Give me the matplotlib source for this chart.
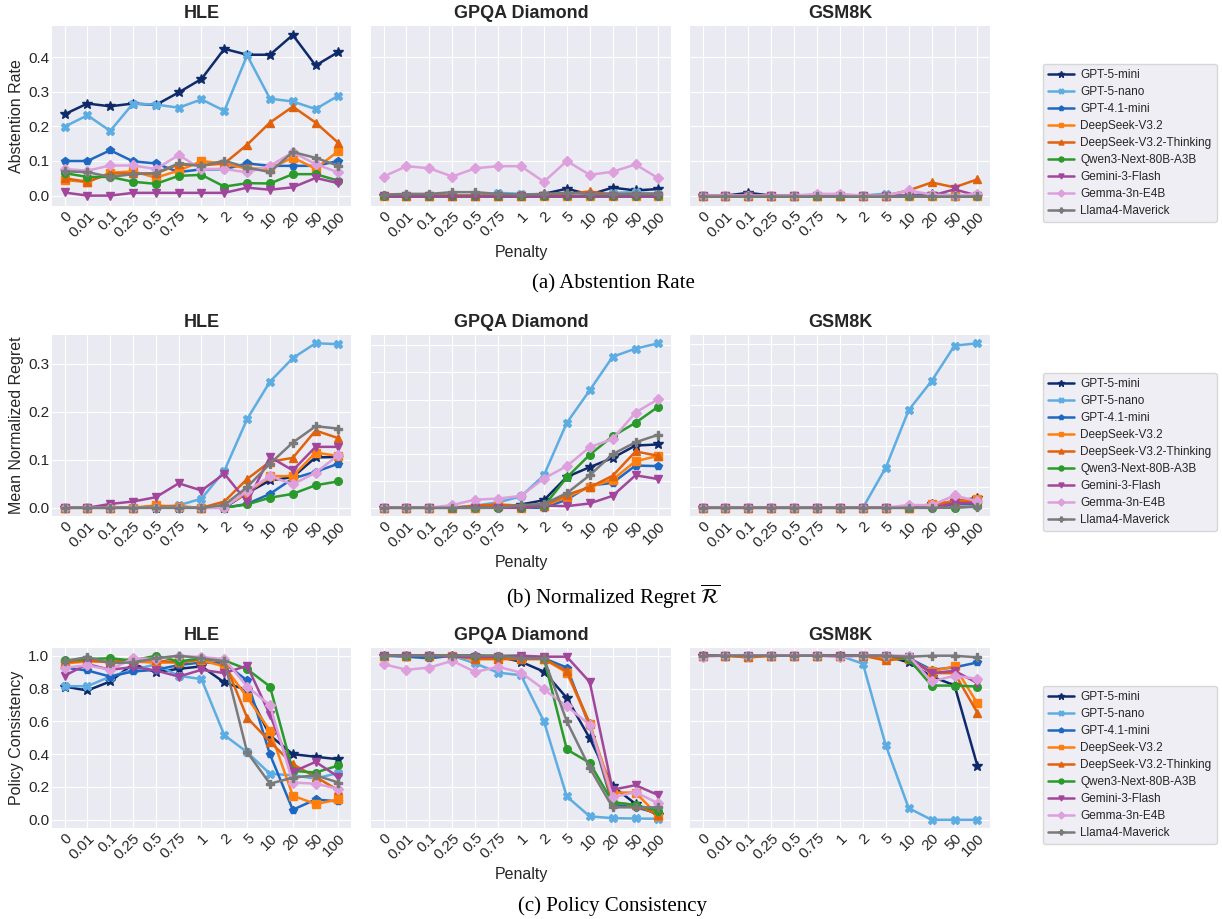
import matplotlib
matplotlib.use('Agg')
import matplotlib.pyplot as plt
from matplotlib.ticker import MultipleLocator

penalties = ['0', '0.01', '0.1', '0.25', '0.5', '0.75', '1', '2', '5', '10', '20', '50', '100']
benchmarks = ['HLE', 'GPQA Diamond', 'GSM8K']
models = ['GPT-5-mini', 'GPT-5-nano', 'GPT-4.1-mini', 'DeepSeek-V3.2', 'DeepSeek-V3.2-Thinking',
          'Qwen3-Next-80B-A3B', 'Gemini-3-Flash', 'Gemma-3n-E4B', 'Llama4-Maverick']
colors = ['#0f2a6b', '#5dade2', '#1f68c1', '#ff7f0e', '#e0620d',
          '#2a9a2a', '#a2469c', '#dda0dd', '#7a7a7a']
markers = ['*', 'X', 'p', 's', '^', 'o', 'v', 'D', 'P']

# (a) abstention rate, one row per model
abst_hle = [
    [0.235, 0.266, 0.258, 0.266, 0.262, 0.298, 0.337, 0.424, 0.407, 0.407, 0.464, 0.376, 0.415],
    [0.199, 0.232, 0.187, 0.266, 0.263, 0.254, 0.278, 0.245, 0.405, 0.280, 0.272, 0.250, 0.289],
    [0.100, 0.100, 0.131, 0.099, 0.093, 0.068, 0.076, 0.076, 0.093, 0.086, 0.086, 0.086, 0.100],
    [0.045, 0.039, 0.066, 0.070, 0.052, 0.072, 0.100, 0.092, 0.078, 0.078, 0.110, 0.078, 0.129],
    [0.050, 0.040, 0.064, 0.064, 0.064, 0.090, 0.087, 0.093, 0.147, 0.211, 0.257, 0.211, 0.152],
    [0.065, 0.054, 0.054, 0.040, 0.034, 0.057, 0.060, 0.026, 0.036, 0.035, 0.062, 0.062, 0.043],
    [0.009, 0.000, 0.000, 0.008, 0.008, 0.008, 0.008, 0.008, 0.023, 0.017, 0.024, 0.051, 0.036],
    [0.077, 0.072, 0.087, 0.087, 0.077, 0.117, 0.077, 0.077, 0.067, 0.086, 0.125, 0.091, 0.067],
    [0.070, 0.068, 0.054, 0.062, 0.065, 0.093, 0.086, 0.101, 0.081, 0.068, 0.126, 0.109, 0.086],
]
abst_gpqa = [
    [0, 0, 0, 0, 0, 0, 0, 0.005, 0.020, 0.003, 0.023, 0.015, 0.019],
    [0, 0, 0, 0, 0, 0.008, 0.005, 0, 0, 0, 0.008, 0.010, 0.005],
    [0, 0, 0, 0, 0, 0, 0, 0, 0, 0, 0, 0, 0],
    [0, 0, 0, 0, 0, 0, 0, 0, 0, 0, 0, 0, 0],
    [0.003, 0, 0, 0, 0, 0, 0, 0.003, 0.005, 0.012, 0.003, 0.005, 0.005],
    [0, 0, 0, 0, 0, 0, 0, 0, 0, 0, 0, 0, 0],
    [0, 0, 0, 0, 0, 0, 0, 0, 0, 0, 0, 0, 0],
    [0.055, 0.085, 0.079, 0.055, 0.079, 0.085, 0.085, 0.040, 0.100, 0.060, 0.069, 0.090, 0.050],
    [0.003, 0.005, 0.005, 0.010, 0.010, 0.005, 0.003, 0.005, 0.008, 0.005, 0.005, 0.005, 0.005],
]
abst_gsm = [
    [0, 0, 0.008, 0, 0, 0, 0, 0, 0, 0, 0.005, 0, 0],
    [0, 0, 0, 0, 0, 0, 0, 0, 0.006, 0, 0, 0, 0],
    [0, 0, 0, 0, 0, 0, 0, 0, 0, 0, 0, 0, 0],
    [0, 0, 0, 0, 0, 0, 0, 0, 0, 0, 0, 0, 0],
    [0, 0, 0, 0, 0, 0, 0, 0, 0, 0.015, 0.038, 0.024, 0.047],
    [0, 0, 0, 0, 0, 0, 0, 0, 0, 0, 0, 0, 0],
    [0, 0, 0, 0, 0, 0, 0, 0, 0, 0, 0, 0.018, 0],
    [0, 0, 0, 0, 0, 0.005, 0.005, 0, 0, 0.015, 0.003, 0, 0.005],
    [0, 0, 0, 0, 0, 0, 0, 0, 0, 0, 0, 0, 0],
]

# (b) mean normalized regret
reg_hle = [
    [0, 0, 0, 0, 0, 0, 0, 0, 0.031, 0.057, 0.064, 0.105, 0.106],
    [0, 0, 0, 0, 0.002, 0.005, 0.019, 0.077, 0.185, 0.263, 0.312, 0.343, 0.341],
    [0, 0, 0, 0, 0, 0, 0, 0, 0.008, 0.029, 0.061, 0.075, 0.092],
    [0, 0, 0, 0, 0.005, 0.002, 0, 0.003, 0.030, 0.066, 0.066, 0.115, 0.108],
    [0, 0, 0, 0, 0.003, 0.003, 0, 0.013, 0.060, 0.096, 0.104, 0.161, 0.145],
    [0, 0, 0, 0, 0, 0, 0, 0, 0.007, 0.021, 0.029, 0.047, 0.055],
    [0, 0, 0.008, 0.013, 0.022, 0.051, 0.036, 0.071, 0.012, 0.106, 0.078, 0.127, 0.127],
    [0, 0, 0, 0, 0, 0, 0, 0, 0.035, 0.066, 0.049, 0.073, 0.110],
    [0, 0, 0, 0, 0, 0, 0, 0.006, 0.043, 0.092, 0.136, 0.170, 0.165],
]
reg_gpqa = [
    [0, 0, 0, 0, 0, 0.001, 0.006, 0.014, 0.057, 0.075, 0.092, 0.115, 0.117],
    [0, 0, 0, 0, 0.004, 0.010, 0.021, 0.060, 0.157, 0.217, 0.279, 0.294, 0.304],
    [0, 0, 0, 0, 0, 0, 0, 0, 0.015, 0.041, 0.046, 0.078, 0.077],
    [0, 0, 0, 0, 0, 0.004, 0, 0.003, 0.020, 0.038, 0.052, 0.086, 0.096],
    [0, 0, 0, 0, 0.004, 0.006, 0.004, 0.004, 0.024, 0.038, 0.059, 0.104, 0.096],
    [0, 0, 0, 0, 0, 0, 0, 0.003, 0.056, 0.098, 0.132, 0.157, 0.187],
    [0, 0, 0, 0, 0, 0, 0, 0.004, 0.003, 0.008, 0.022, 0.060, 0.053],
    [0, 0, 0, 0.005, 0.015, 0.017, 0.022, 0.054, 0.077, 0.112, 0.127, 0.176, 0.201],
    [0, 0, 0, 0, 0, 0, 0.005, 0.007, 0.027, 0.060, 0.099, 0.121, 0.135],
]
reg_gsm = [
    [0, 0, 0, 0, 0, 0, 0, 0, 0, 0, 0.008, 0.016, 0.024],
    [0, 0, 0, 0, 0, 0, 0, 0, 0.098, 0.238, 0.309, 0.395, 0.401],
    [0, 0, 0, 0, 0, 0, 0, 0, 0, 0, 0, 0.008, 0.010],
    [0, 0, 0, 0, 0, 0, 0, 0, 0, 0, 0.009, 0.016, 0.021],
    [0, 0, 0, 0, 0, 0, 0, 0, 0, 0, 0.007, 0.014, 0.016],
    [0, 0, 0, 0, 0, 0, 0, 0, 0, 0, 0, 0, 0.004],
    [0, 0, 0, 0, 0, 0, 0, 0, 0, 0, 0, 0.011, 0.011],
    [0, 0, 0, 0, 0, 0, 0, 0, 0, 0.007, 0.006, 0.030, 0.016],
    [0, 0, 0, 0, 0, 0, 0, 0, 0, 0, 0, 0.001, 0.002],
]

# (c) policy consistency
pc_hle = [
    [0.812, 0.788, 0.843, 0.949, 0.900, 0.920, 0.935, 0.837, 0.790, 0.514, 0.400, 0.384, 0.369],
    [0.814, 0.814, 0.873, 0.914, 0.947, 0.878, 0.857, 0.516, 0.412, 0.280, 0.271, 0.251, 0.286],
    [0.927, 0.910, 0.873, 0.904, 0.914, 0.943, 0.959, 0.955, 0.849, 0.398, 0.061, 0.124, 0.112],
    [0.953, 0.965, 0.965, 0.965, 0.957, 0.959, 0.971, 0.935, 0.747, 0.543, 0.147, 0.096, 0.124],
    [0.959, 0.971, 0.959, 0.980, 0.971, 0.959, 0.980, 0.965, 0.622, 0.476, 0.339, 0.261, 0.180],
    [0.971, 0.980, 0.984, 0.971, 1.000, 0.965, 0.984, 0.971, 0.918, 0.812, 0.298, 0.288, 0.331],
    [0.878, 0.949, 0.914, 0.931, 0.910, 0.873, 0.914, 0.894, 0.939, 0.639, 0.292, 0.353, 0.261],
    [0.927, 0.941, 0.914, 0.984, 0.980, 1.000, 0.992, 0.980, 0.812, 0.698, 0.227, 0.220, 0.188],
    [0.967, 0.992, 0.955, 0.959, 0.984, 1.000, 0.984, 0.967, 0.412, 0.220, 0.257, 0.271, 0.227],
]
pc_gpqa = [
    [1.0, 1.0, 1.0, 1.0, 1.0, 0.994, 0.963, 0.903, 0.743, 0.497, 0.205, 0.097, 0.027],
    [1.0, 1.0, 1.0, 1.0, 0.953, 0.897, 0.881, 0.600, 0.142, 0.021, 0.010, 0.008, 0.006],
    [1.0, 0.994, 0.984, 1.0, 0.994, 0.994, 0.984, 0.984, 0.928, 0.569, 0.092, 0.076, 0.039],
    [1.0, 1.0, 1.0, 1.0, 0.980, 0.980, 0.980, 0.980, 0.897, 0.583, 0.166, 0.166, 0.025],
    [1.0, 1.0, 1.0, 1.0, 0.980, 0.980, 0.980, 0.980, 0.907, 0.589, 0.107, 0.090, 0.031],
    [1.0, 1.0, 1.0, 1.0, 1.0, 1.0, 1.0, 0.984, 0.429, 0.347, 0.107, 0.090, 0.055],
    [1.0, 1.0, 1.0, 0.994, 0.994, 0.994, 1.0, 0.994, 0.994, 0.840, 0.183, 0.211, 0.150],
    [0.949, 0.914, 0.928, 0.969, 0.901, 0.932, 0.897, 0.795, 0.692, 0.579, 0.138, 0.168, 0.100],
    [1.0, 1.0, 1.0, 1.0, 1.0, 1.0, 0.984, 0.984, 0.600, 0.316, 0.076, 0.076, 0.076],
]
pc_gsm = [
    [1.0, 1.0, 1.0, 1.0, 1.0, 1.0, 1.0, 1.0, 1.0, 0.959, 0.873, 0.820, 0.329],
    [1.0, 1.0, 1.0, 1.0, 1.0, 1.0, 1.0, 0.951, 0.453, 0.071, 0.0, 0.0, 0.0],
    [1.0, 1.0, 1.0, 1.0, 1.0, 1.0, 1.0, 1.0, 1.0, 0.986, 0.914, 0.929, 0.959],
    [1.0, 1.0, 0.990, 1.0, 1.0, 1.0, 1.0, 1.0, 0.986, 0.980, 0.904, 0.935, 0.710],
    [1.0, 1.0, 0.990, 1.0, 1.0, 1.0, 1.0, 1.0, 0.971, 0.986, 0.894, 0.894, 0.653],
    [1.0, 1.0, 1.0, 1.0, 1.0, 1.0, 1.0, 1.0, 1.0, 0.980, 0.818, 0.818, 0.812],
    [1.0, 1.0, 1.0, 1.0, 1.0, 1.0, 1.0, 1.0, 1.0, 0.990, 0.894, 0.908, 0.833],
    [0.994, 1.0, 1.0, 1.0, 1.0, 1.0, 0.990, 1.0, 1.0, 1.0, 0.843, 0.878, 0.859],
    [1.0, 1.0, 1.0, 1.0, 1.0, 1.0, 1.0, 1.0, 1.0, 0.994, 1.0, 1.0, 0.990],
]

row_data = [[abst_hle, abst_gpqa, abst_gsm],
            [reg_hle, reg_gpqa, reg_gsm],
            [pc_hle, pc_gpqa, pc_gsm]]
row_ylabels = ['Abstention Rate', 'Mean Normalized Regret', 'Policy Consistency']
captions = ['(a) Abstention Rate', r'(b) Normalized Regret $\overline{\mathcal{R}}$', '(c) Policy Consistency']

plt.style.use('seaborn-v0_8-darkgrid')
plt.rcParams['font.family'] = ['Liberation Sans', 'DejaVu Sans']
plt.rcParams['mathtext.fontset'] = 'stix'
plt.rcParams['text.color'] = '#262626'
plt.rcParams['axes.labelcolor'] = '#262626'
plt.rcParams['xtick.color'] = '#262626'
plt.rcParams['ytick.color'] = '#262626'

W, H = 1222, 919
fig = plt.figure(figsize=(W / 100, H / 100), dpi=100)

# axes boxes in pixels
col_x = [(52, 351), (371, 671), (690, 990)]
row_y = [(26, 206), (335, 516), (648, 828)]
caption_y = [284, 597, 906]
legend_top = [64, 373, 686]
# y grid spacing per panel
ysteps = [[0.1, 0.1, 0.1], [0.1, 0.05, 0.05], [0.2, 0.2, 0.2]]
ylims = [(-0.03, 0.49), None, (-0.05, 1.047)]

x = list(range(len(penalties)))

for r in range(3):
    y0, y1 = row_y[r]
    handles = []
    for c in range(3):
        x0, x1 = col_x[c]
        ax = fig.add_axes([x0 / W, 1 - y1 / H, (x1 - x0) / W, (y1 - y0) / H])
        data = row_data[r][c]
        for i, m in enumerate(models):
            ms = 7.5 if markers[i] == '*' else 5.5
            ln, = ax.plot(x, data[i], color=colors[i], marker=markers[i], markersize=ms,
                          linewidth=1.8, label=m)
            if c == 0:
                handles.append(ln)
        ax.set_title(benchmarks[c], fontsize=13, fontweight='bold', pad=6)
        ax.set_xticks(x)
        ax.set_xticklabels(penalties, rotation=45, ha='right', rotation_mode='anchor', fontsize=11)
        ax.tick_params(axis='x', pad=2)
        ax.yaxis.set_major_locator(MultipleLocator(ysteps[r][c]))
        ax.tick_params(axis='y', labelsize=11, pad=2)
        ax.set_xlim(-0.55, len(penalties) - 0.45)
        if ylims[r] is not None:
            ax.set_ylim(*ylims[r])
        if c == 0:
            ax.set_ylabel(row_ylabels[r], fontsize=11.5, labelpad=3)
        else:
            ax.tick_params(axis='y', labelleft=False)
        if c == 1:
            ax.set_xlabel('Penalty', fontsize=11.5, labelpad=4)
    fig.legend(handles, models, loc='upper left', bbox_to_anchor=(1043 / W, 1 - legend_top[r] / H),
               borderaxespad=0, fontsize=8.5, frameon=True, facecolor='#EAEAF2', edgecolor='#d0d0d0',
               handlelength=2.2, handletextpad=0.5, labelspacing=0.42, borderpad=0.45,
               markerscale=0.65, fancybox=True)
    fig.text(613 / W, 1 - caption_y[r] / H, captions[r], ha='center', va='center',
             fontsize=15, family=['Liberation Serif', 'DejaVu Serif'], color='black')

fig.savefig('out.png', dpi=100)
